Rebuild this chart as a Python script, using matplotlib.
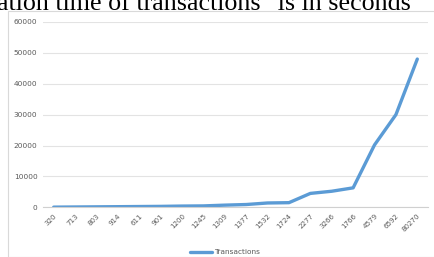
import matplotlib.pyplot as plt
from matplotlib.patches import Rectangle

# data
labels = ["320", "713", "803", "914", "611", "901", "1200", "1245", "1309",
          "1377", "1532", "1724", "2277", "3266", "1766", "4579", "6592", "80270"]
values = [50, 100, 150, 200, 250, 300, 400, 450, 700,
          900, 1400, 1500, 4500, 5200, 6300, 20200, 30000, 48000]
yticks = [0, 10000, 20000, 30000, 40000, 50000, 60000]

W, H = 435, 257
fig = plt.figure(figsize=(W / 100, H / 100), dpi=100)

# chart frame (light border)
fig.patches.append(Rectangle((8 / W, 0), 1, 1 - 11 / H, transform=fig.transFigure,
                             fill=False, ec="#d9d9d9", lw=0.8))

# caption text above the chart, cropped by the image edge
fig.text(-3 / W, 1 - 9.5 / H, "ation time of transactions\" is in seconds",
         family="Liberation Serif", fontsize=18.7, color="black", va="baseline", ha="left")

ax = fig.add_axes([43 / W, 49.7 / H, (428 - 43) / W, (207.3 - 22) / H])
x = list(range(len(labels)))
ax.plot(x, values, color="#5b9bd5", lw=2.4, solid_joinstyle="round",
        solid_capstyle="round", label="Transactions")

ax.set_xlim(-0.5, len(labels) - 0.5)
ax.set_ylim(0, 60000)
ax.set_yticks(yticks)
ax.set_yticklabels([str(t) for t in yticks], fontsize=5.3, color="#595959")
ax.set_xticks(x)
ax.set_xticklabels(labels, rotation=45, ha="right", rotation_mode="anchor",
                   fontsize=5.1, color="#595959")
ax.tick_params(length=0, pad=4)
ax.grid(axis="y", color="#e3e3e3", lw=0.8)
ax.set_axisbelow(True)
for s in ["top", "right", "left"]:
    ax.spines[s].set_visible(False)
ax.spines["bottom"].set_color("#d0d0d0")
ax.spines["bottom"].set_linewidth(0.8)

fig.legend(loc="center", bbox_to_anchor=(225 / W, 1 - 252 / H), frameon=False,
           fontsize=5.3, handlelength=3.0, handletextpad=0.2, labelcolor="#595959")

fig.savefig("out.png", dpi=100)
